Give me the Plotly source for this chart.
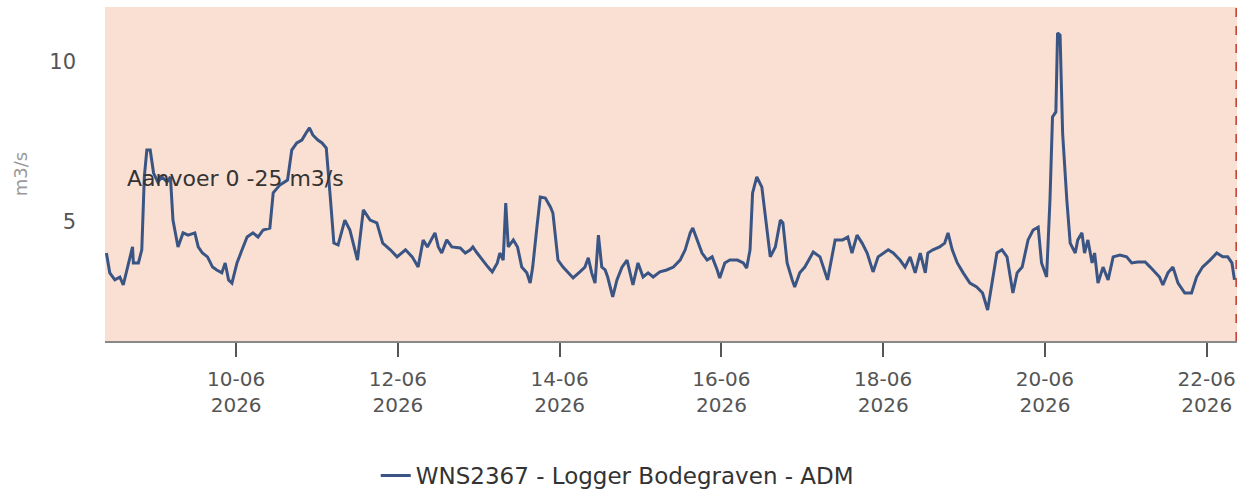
import plotly.graph_objects as go

# Flow measurements (m3/s) for logger WNS2367 Bodegraven
times = [
    "2026-06-08 09:30", "2026-06-08 10:30", "2026-06-08 12:00", "2026-06-08 13:30", "2026-06-08 14:30",
    "2026-06-08 16:00", "2026-06-08 17:15", "2026-06-08 17:30", "2026-06-08 19:00", "2026-06-08 20:00",
    "2026-06-08 20:45", "2026-06-08 21:30", "2026-06-08 22:30", "2026-06-08 23:30", "2026-06-09 00:45",
    "2026-06-09 02:00", "2026-06-09 03:30", "2026-06-09 04:30", "2026-06-09 05:15", "2026-06-09 06:45",
    "2026-06-09 08:15", "2026-06-09 09:45", "2026-06-09 11:45", "2026-06-09 12:45", "2026-06-09 14:00",
    "2026-06-09 15:30", "2026-06-09 17:00", "2026-06-09 18:15", "2026-06-09 19:45", "2026-06-09 20:45",
    "2026-06-09 21:45", "2026-06-09 22:45", "2026-06-09 23:45", "2026-06-10 00:15", "2026-06-10 01:45",
    "2026-06-10 03:15", "2026-06-10 05:00", "2026-06-10 06:30", "2026-06-10 08:00", "2026-06-10 10:00",
    "2026-06-10 11:00", "2026-06-10 13:00", "2026-06-10 15:15", "2026-06-10 16:30", "2026-06-10 18:00",
    "2026-06-10 19:30", "2026-06-10 20:45", "2026-06-10 21:45", "2026-06-10 22:45", "2026-06-11 00:15",
    "2026-06-11 01:30", "2026-06-11 02:45", "2026-06-11 04:00", "2026-06-11 05:00", "2026-06-11 06:15",
    "2026-06-11 08:15", "2026-06-11 09:45", "2026-06-11 12:00", "2026-06-11 13:45", "2026-06-11 15:45",
    "2026-06-11 17:45", "2026-06-11 19:30", "2026-06-11 21:45", "2026-06-11 23:45", "2026-06-12 02:15",
    "2026-06-12 04:15", "2026-06-12 06:00", "2026-06-12 07:30", "2026-06-12 08:45", "2026-06-12 10:15",
    "2026-06-12 11:00", "2026-06-12 12:00", "2026-06-12 13:00", "2026-06-12 14:30", "2026-06-12 16:00",
    "2026-06-12 18:30", "2026-06-12 20:00", "2026-06-12 21:30", "2026-06-12 22:15", "2026-06-12 23:30",
    "2026-06-13 01:00", "2026-06-13 02:45", "2026-06-13 04:00", "2026-06-13 05:30", "2026-06-13 06:15",
    "2026-06-13 07:15", "2026-06-13 08:00", "2026-06-13 08:45", "2026-06-13 10:15", "2026-06-13 11:30",
    "2026-06-13 12:45", "2026-06-13 14:15", "2026-06-13 15:15", "2026-06-13 16:00", "2026-06-13 17:15",
    "2026-06-13 18:15", "2026-06-13 19:45", "2026-06-13 21:15", "2026-06-13 22:00", "2026-06-13 23:30",
    "2026-06-14 01:00", "2026-06-14 02:30", "2026-06-14 04:00", "2026-06-14 06:00", "2026-06-14 07:30",
    "2026-06-14 08:30", "2026-06-14 09:30", "2026-06-14 10:30", "2026-06-14 11:30", "2026-06-14 12:30",
    "2026-06-14 13:30", "2026-06-14 14:15", "2026-06-14 15:45", "2026-06-14 17:00", "2026-06-14 18:30",
    "2026-06-14 20:00", "2026-06-14 21:00", "2026-06-14 21:45", "2026-06-14 23:15", "2026-06-15 00:45",
    "2026-06-15 02:15", "2026-06-15 03:45", "2026-06-15 05:45", "2026-06-15 07:45", "2026-06-15 09:45",
    "2026-06-15 11:45", "2026-06-15 13:15", "2026-06-15 14:45", "2026-06-15 15:30", "2026-06-15 16:45",
    "2026-06-15 18:15", "2026-06-15 19:45", "2026-06-15 21:15", "2026-06-15 22:45", "2026-06-15 23:30",
    "2026-06-16 01:00", "2026-06-16 02:30", "2026-06-16 04:45", "2026-06-16 06:30", "2026-06-16 07:30",
    "2026-06-16 08:30", "2026-06-16 09:15", "2026-06-16 10:30", "2026-06-16 12:00", "2026-06-16 13:00",
    "2026-06-16 14:30", "2026-06-16 16:00", "2026-06-16 17:30", "2026-06-16 18:15", "2026-06-16 19:30",
    "2026-06-16 21:00", "2026-06-16 21:45", "2026-06-16 23:15", "2026-06-17 00:45", "2026-06-17 03:15",
    "2026-06-17 05:15", "2026-06-17 06:15", "2026-06-17 07:30", "2026-06-17 09:45", "2026-06-17 12:00",
    "2026-06-17 13:30", "2026-06-17 14:45", "2026-06-17 16:15", "2026-06-17 17:45", "2026-06-17 19:15",
    "2026-06-17 21:00", "2026-06-17 22:30", "2026-06-18 00:00", "2026-06-18 01:30", "2026-06-18 03:00",
    "2026-06-18 05:00", "2026-06-18 06:30", "2026-06-18 08:00", "2026-06-18 09:30", "2026-06-18 11:00",
    "2026-06-18 12:30", "2026-06-18 13:15", "2026-06-18 14:45", "2026-06-18 16:45", "2026-06-18 18:15",
    "2026-06-18 19:15", "2026-06-18 20:30", "2026-06-18 22:00", "2026-06-18 23:45", "2026-06-19 01:45",
    "2026-06-19 03:45", "2026-06-19 05:30", "2026-06-19 07:00", "2026-06-19 08:15", "2026-06-19 09:45",
    "2026-06-19 11:15", "2026-06-19 12:45", "2026-06-19 14:30", "2026-06-19 15:45", "2026-06-19 17:15",
    "2026-06-19 19:00", "2026-06-19 20:30", "2026-06-19 22:00", "2026-06-19 23:00", "2026-06-20 00:30",
    "2026-06-20 01:30", "2026-06-20 02:15", "2026-06-20 03:15", "2026-06-20 03:45", "2026-06-20 04:30",
    "2026-06-20 05:15", "2026-06-20 06:30", "2026-06-20 07:30", "2026-06-20 09:00", "2026-06-20 09:45",
    "2026-06-20 11:00", "2026-06-20 11:45", "2026-06-20 12:45", "2026-06-20 14:00", "2026-06-20 14:45",
    "2026-06-20 15:45", "2026-06-20 17:15", "2026-06-20 18:45", "2026-06-20 20:15", "2026-06-20 22:15",
    "2026-06-21 00:15", "2026-06-21 01:45", "2026-06-21 03:30", "2026-06-21 05:45", "2026-06-21 07:15",
    "2026-06-21 08:45", "2026-06-21 10:00", "2026-06-21 11:00", "2026-06-21 12:30", "2026-06-21 14:00",
    "2026-06-21 15:30", "2026-06-21 17:30", "2026-06-21 19:30", "2026-06-21 21:00", "2026-06-21 22:45",
    "2026-06-22 01:00", "2026-06-22 03:00", "2026-06-22 04:45", "2026-06-22 06:15", "2026-06-22 07:30",
    "2026-06-22 08:15",
]

flow = [
    4.03, 3.41, 3.19, 3.28, 3.03, 3.72, 4.22, 3.72, 3.72, 4.13,
    6.41, 7.25, 7.25, 6.53, 6.25, 6.41, 6.25, 6.41, 5.06, 4.22,
    4.66, 4.59, 4.66, 4.22, 4.03, 3.91, 3.59, 3.50, 3.41, 3.72,
    3.19, 3.09, 3.50, 3.72, 4.13, 4.53, 4.66, 4.53, 4.75, 4.81,
    5.91, 6.16, 6.31, 7.25, 7.47, 7.56, 7.78, 7.94, 7.72, 7.56,
    7.47, 7.31, 5.69, 4.34, 4.28, 5.06, 4.75, 3.81, 5.38, 5.06,
    4.97, 4.34, 4.13, 3.91, 4.13, 3.91, 3.59, 4.44, 4.22, 4.53,
    4.66, 4.22, 4.03, 4.44, 4.22, 4.19, 4.03, 4.13, 4.22, 4.03,
    3.81, 3.59, 3.44, 3.72, 4.03, 3.81, 5.59, 4.22, 4.44, 4.22,
    3.59, 3.41, 3.09, 3.59, 4.84, 5.78, 5.75, 5.47, 5.28, 3.81,
    3.59, 3.41, 3.25, 3.44, 3.59, 3.88, 3.41, 3.09, 4.59, 3.59,
    3.50, 3.28, 2.66, 3.19, 3.59, 3.81, 3.41, 3.03, 3.72, 3.28,
    3.41, 3.28, 3.44, 3.50, 3.59, 3.81, 4.13, 4.66, 4.81, 4.44,
    4.03, 3.81, 3.91, 3.50, 3.25, 3.72, 3.81, 3.81, 3.72, 3.56,
    4.13, 5.91, 6.41, 6.09, 5.28, 3.91, 4.22, 5.06, 4.97, 3.72,
    3.19, 2.97, 3.41, 3.59, 4.06, 3.91, 3.59, 3.19, 4.44, 4.44,
    4.53, 4.03, 4.59, 4.34, 4.03, 3.44, 3.91, 4.03, 4.13, 4.03,
    3.81, 3.59, 3.91, 3.41, 4.03, 3.41, 4.03, 4.13, 4.22, 4.34,
    4.66, 4.13, 3.72, 3.41, 3.09, 2.97, 2.78, 2.25, 3.09, 4.03,
    4.13, 3.91, 2.78, 3.41, 3.59, 4.44, 4.75, 4.84, 3.72, 3.28,
    5.69, 8.28, 8.44, 10.91, 10.84, 7.78, 5.69, 4.34, 4.03, 4.44,
    4.66, 4.03, 4.44, 3.72, 4.03, 3.09, 3.59, 3.19, 3.91, 3.97,
    3.91, 3.72, 3.75, 3.75, 3.59, 3.41, 3.28, 3.03, 3.41, 3.59,
    3.09, 2.78, 2.78, 3.28, 3.59, 3.81, 4.03, 3.91, 3.91, 3.72,
    3.19,
]

series_name = "WNS2367 - Logger Bodegraven - ADM"
band_label = "Aanvoer 0 -25 m3/s"
band_low, band_high = 0, 25
x_start, x_end = "2026-06-08 09:05", "2026-06-22 09:00"
now_marker = "2026-06-22 08:45"
y_min, y_max = 1.28, 11.72

FONT = "DejaVu Sans"

fig = go.Figure()

fig.add_trace(go.Scatter(
    x=times, y=flow, mode="lines", name=series_name,
    line=dict(color="#3a5584", width=3),
))

# supply band (0 - 25 m3/s) behind the series
fig.add_shape(type="rect", xref="x", yref="y",
              x0=x_start, x1=x_end, y0=band_low, y1=band_high,
              fillcolor="#fae0d3", line=dict(width=0), layer="below")

# current-time marker
fig.add_shape(type="line", xref="x", yref="paper",
              x0=now_marker, x1=now_marker, y0=0, y1=1,
              line=dict(color="#c0392b", width=1.5, dash="dash"))

fig.add_annotation(text=band_label, xref="paper", yref="y",
                   x=0.0177, y=6.375, xanchor="left", yanchor="middle",
                   showarrow=False, font=dict(family=FONT, size=22, color="#333333"))

fig.update_layout(
    width=1247, height=497,
    margin=dict(l=105, r=10, t=7, b=156),
    paper_bgcolor="white", plot_bgcolor="white",
    font=dict(family=FONT, color="#555555"),
    showlegend=True,
    legend=dict(orientation="h", xref="container", yref="container",
                x=0.495, xanchor="center", y=0.0, yanchor="bottom",
                font=dict(family=FONT, size=23, color="#333333")),
    xaxis=dict(
        type="date", range=[x_start, x_end],
        tick0="2026-06-10", dtick=2 * 86400000,
        tickformat="%d-%m<br>%Y",
        ticks="outside", ticklen=14, tickwidth=1.5, tickcolor="#555555",
        ticklabelstandoff=5,
        showline=True, linecolor="#888888", linewidth=1.5,
        showgrid=False, zeroline=False,
        tickfont=dict(family=FONT, size=20, color="#555555"),
    ),
    yaxis=dict(
        range=[y_min, y_max], tickvals=[5, 10],
        showgrid=False, zeroline=False, showline=False,
        ticklabelstandoff=28,
        tickfont=dict(family=FONT, size=21, color="#555555"),
        title=dict(text="m3/s", standoff=16, font=dict(family=FONT, size=18, color="#999999")),
    ),
)

fig.write_html("out.html")
